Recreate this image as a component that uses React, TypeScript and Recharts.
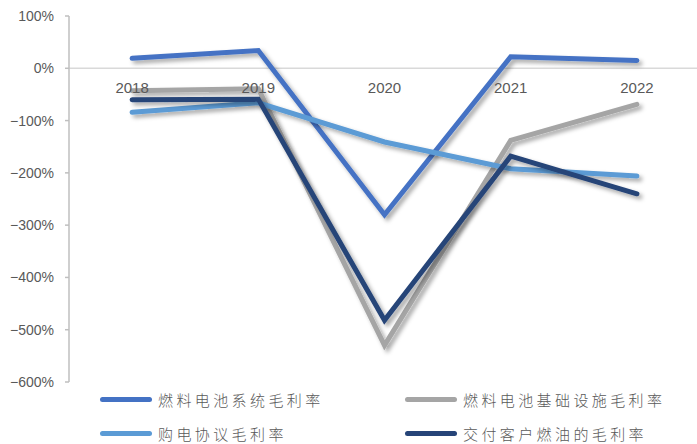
import React from 'react';
import { LineChart, Line, XAxis, YAxis, ReferenceLine, Legend, LabelList } from 'recharts';

const years = ['2018', '2019', '2020', '2021', '2022'];
const fuelCellSystem = [19, 34, -280, 22, 15];
const infrastructure = [-43, -39, -530, -138, -69];
const ppa = [-84, -66, -141, -192, -206];
const fuelDelivery = [-60, -59, -482, -168, -240];
const yTicks = [100, 0, -100, -200, -300, -400, -500, -600];

const seriesNames = ['燃料电池系统毛利率', '燃料电池基础设施毛利率', '购电协议毛利率', '交付客户燃油的毛利率'];
const seriesKeys = ['s1', 's2', 's3', 's4'];
const seriesColors = ['#4472C4', '#A5A5A5', '#5B9BD5', '#264478'];

const data = years.map((y, i) => ({
  year: y,
  zero: 0,
  s1: fuelCellSystem[i],
  s2: infrastructure[i],
  s3: ppa[i],
  s4: fuelDelivery[i],
}));

const fmt = (v: number) => `${v < 0 ? '−' : ''}${Math.abs(v)}%`;

const LegendContent = () => {
  const pos = [
    { left: 100, top: 7 },
    { left: 405, top: 7 },
    { left: 100, top: 41 },
    { left: 405, top: 41 },
  ];
  return (
    <div style={{ position: 'relative', width: 697, height: 60 }}>
      {seriesNames.map((n, i) => (
        <div
          key={n}
          style={{
            position: 'absolute',
            left: pos[i].left,
            top: pos[i].top,
            display: 'flex',
            alignItems: 'center',
            height: 20,
          }}
        >
          <div style={{ width: 52, height: 5, borderRadius: 3, background: seriesColors[i], marginRight: 6 }} />
          <span
            style={{
              fontFamily: '"Noto Sans CJK SC", sans-serif',
              fontSize: 15,
              fontWeight: 300,
              letterSpacing: 3.4,
              color: '#595959',
              whiteSpace: 'nowrap',
            }}
          >
            {n}
          </span>
        </div>
      ))}
    </div>
  );
};

export default function App() {
  return (
    <div style={{ position: 'absolute', left: 0, top: 0, width: 697, height: 444, background: '#fff' }}>
      <LineChart width={697} height={444} data={data} margin={{ top: 16, right: -3, bottom: 2, left: 0 }}>
        <defs>
          <filter id="sh" x="-10%" y="-10%" width="130%" height="130%">
            <feDropShadow dx="3" dy="3" stdDeviation="2" floodColor="#000" floodOpacity="0.35" />
          </filter>
        </defs>
        <XAxis dataKey="year" hide scale="band" />
        <YAxis
          domain={[-600, 100]}
          ticks={yTicks}
          width={69}
          tickFormatter={fmt}
          axisLine={{ stroke: '#BFBFBF', strokeWidth: 1.5 }}
          tickLine={{ stroke: '#BFBFBF', strokeWidth: 1.5 }}
          tickSize={4}
          tickMargin={11}
          interval={0}
          tick={{ fill: '#595959', fontSize: 14, fontFamily: '"Liberation Sans", Arial, sans-serif' }}
        />
        <ReferenceLine y={0} stroke="#D9D9D9" strokeWidth={1.5} />
        <Line
          dataKey="zero"
          stroke="none"
          dot={false}
          activeDot={false}
          legendType="none"
          isAnimationActive={false}
        >
          <LabelList
            dataKey="year"
            position="bottom"
            offset={14}
            fill="#595959"
            fontSize={15}
            fontFamily='"Liberation Sans", Arial, sans-serif'
          />
        </Line>
        {seriesKeys.map((k, i) => (
          <Line
            key={k}
            dataKey={k}
            name={seriesNames[i]}
            stroke={seriesColors[i]}
            strokeWidth={5}
            strokeLinecap="round"
            strokeLinejoin="miter"
            filter="url(#sh)"
            dot={false}
            activeDot={false}
            isAnimationActive={false}
          />
        ))}
        <Legend verticalAlign="bottom" height={60} content={<LegendContent />} wrapperStyle={{ left: 0, width: 697, height: 60 }} />
      </LineChart>
    </div>
  );
}
